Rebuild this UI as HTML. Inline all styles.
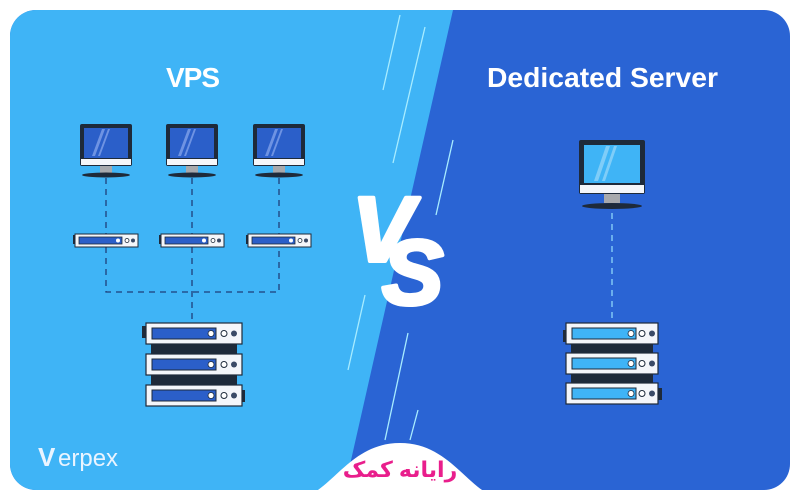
<!DOCTYPE html>
<html><head><meta charset="utf-8"><style>html,body{margin:0;padding:0;background:#fff}svg{display:block}</style></head><body>
<svg width="800" height="500" viewBox="0 0 800 500" xmlns="http://www.w3.org/2000/svg">
<defs>
<clipPath id="card"><rect x="10" y="10" width="780" height="480" rx="26"/></clipPath>
<g id="mon">
 <rect x="-26" y="0" width="52" height="42" rx="2" fill="#1e2a3a"/>
 <rect x="-22" y="4" width="44" height="30" fill="#2b5fc9"/>
 <path d="M-14 32 L-4 5 L-1 5 L-11 32Z M-8 32 L2 5 L4 5 L-6 32Z" fill="#6e93e3"/>
 <rect x="-25" y="35" width="50" height="6" fill="#f4f6fa"/>
 <rect x="-6" y="42" width="12" height="7" fill="#a7a9ad"/>
 <ellipse cx="0" cy="51" rx="24" ry="2.5" fill="#1e2a3a"/>
</g>
<g id="mon2">
 <rect x="-33" y="0" width="66" height="54" rx="2" fill="#1e2a3a"/>
 <rect x="-28" y="5" width="56" height="38" fill="#3fb4f6"/>
 <path d="M-18 41 L-6 6 L-2 6 L-14 41Z M-10 41 L2 6 L5 6 L-7 41Z" fill="#7fcdf8"/>
 <rect x="-32" y="45" width="64" height="8" fill="#f4f6fa"/>
 <rect x="-8" y="54" width="16" height="9" fill="#a7a9ad"/>
 <ellipse cx="0" cy="66" rx="30" ry="3" fill="#1e2a3a"/>
</g>
<g id="small">
 <rect x="-33" y="1" width="3" height="9" fill="#1e2a3a"/>
 <rect x="-31" y="0" width="63" height="13" fill="#f4f6fa" stroke="#1e2a3a" stroke-width="1"/>
 <rect x="-27" y="3" width="43" height="7" fill="#2b5fc9" stroke="#1e2a3a" stroke-width="0.8"/>
 <circle cx="12" cy="6.5" r="2" fill="#fff"/>
 <circle cx="21" cy="6.5" r="2" fill="#fff" stroke="#1e2a3a" stroke-width="0.8"/>
 <circle cx="27" cy="6.5" r="2" fill="#3a4a66"/>
</g>
<g id="big">
 <rect x="-48" y="0" width="96" height="21" fill="#f4f6fa" stroke="#1e2a3a" stroke-width="1.2"/>
 <rect x="-42" y="5" width="64" height="11" fill="#2b5fc9" stroke="#1e2a3a" stroke-width="1"/>
 <circle cx="17" cy="10.5" r="3" fill="#fff" stroke="#1e2a3a" stroke-width="0.8"/>
 <circle cx="30" cy="10.5" r="3" fill="#fff" stroke="#1e2a3a" stroke-width="1"/>
 <circle cx="40" cy="10.5" r="3" fill="#3a4a66"/>
</g>
<g id="big2">
 <rect x="-46" y="0" width="92" height="21" fill="#f4f6fa" stroke="#1e2a3a" stroke-width="1.2"/>
 <rect x="-40" y="5" width="64" height="11" fill="#3fb4f6" stroke="#1e2a3a" stroke-width="1"/>
 <circle cx="19" cy="10.5" r="3" fill="#fff" stroke="#1e2a3a" stroke-width="0.8"/>
 <circle cx="30" cy="10.5" r="3" fill="#fff" stroke="#1e2a3a" stroke-width="1"/>
 <circle cx="40" cy="10.5" r="3" fill="#3a4a66"/>
</g>
</defs>
<g clip-path="url(#card)">
 <rect x="0" y="0" width="800" height="500" fill="#2a64d4"/>
 <polygon points="0,0 457,0 453,10 342,500 0,500" fill="#3fb4f6"/>
 <g stroke="#a8ecff" stroke-width="1.3">
  <line x1="400" y1="15" x2="383" y2="90"/>
  <line x1="425" y1="27" x2="393" y2="163"/>
  <line x1="453" y1="140" x2="436" y2="215"/>
  <line x1="365" y1="295" x2="348" y2="370"/>
  <line x1="408" y1="333" x2="385" y2="440"/>
  <line x1="418" y1="410" x2="410" y2="440"/>
 </g>
</g>
<path d="M290 500 C330 500 345 443 400 443 C455 443 470 500 510 500Z" fill="#fff"/>
<text x="193" y="87" fill="#fff" font-family="Liberation Sans, sans-serif" font-weight="bold" font-size="28" text-anchor="middle" textLength="54">VPS</text>
<text x="487" y="87" fill="#fff" font-family="Liberation Sans, sans-serif" font-weight="bold" font-size="28" textLength="231" lengthAdjust="spacingAndGlyphs">Dedicated Server</text>
<g fill="#fff" stroke="#fff" stroke-width="4" stroke-linejoin="round" font-family="Liberation Sans, sans-serif" font-weight="bold" font-style="italic" font-size="92">
<text x="352" y="261">V</text>
<text x="382" y="304">S</text>
</g>
<!-- left connectors -->
<g stroke="#1e3f7a" stroke-width="1.3" stroke-dasharray="6,5" fill="none">
 <line x1="106" y1="178" x2="106" y2="234"/><line x1="192" y1="178" x2="192" y2="234"/><line x1="279" y1="178" x2="279" y2="234"/>
 <path d="M106 247 V292 H279 V247"/><line x1="192" y1="247" x2="192" y2="322"/>
</g>
<use href="#mon" x="106" y="124"/><use href="#mon" x="192" y="124"/><use href="#mon" x="279" y="124"/>
<use href="#small" x="106" y="234"/><use href="#small" x="192" y="234"/><use href="#small" x="279" y="234"/>
<rect x="151" y="344" width="86" height="41" fill="#1e2a3a"/>
<rect x="142" y="326" width="4" height="12" fill="#1e2a3a"/><rect x="241" y="390" width="4" height="12" fill="#1e2a3a"/>
<use href="#big" x="194" y="323"/><use href="#big" x="194" y="354"/><use href="#big" x="194" y="385"/>
<!-- right -->
<line x1="612" y1="213" x2="612" y2="322" stroke="#7fc6f5" stroke-width="1.5" stroke-dasharray="6,5"/>
<use href="#mon2" x="612" y="140"/>
<rect x="571" y="344" width="82" height="41" fill="#1e2a3a"/>
<rect x="563" y="330" width="4" height="12" fill="#1e2a3a"/><rect x="658" y="388" width="4" height="12" fill="#1e2a3a"/>
<use href="#big2" x="612" y="323"/><use href="#big2" x="612" y="353"/><use href="#big2" x="612" y="383"/>
<!-- logos -->
<text x="38" y="466" fill="#eaf4ff" font-family="Liberation Sans, sans-serif" font-size="26" font-weight="bold">V</text>
<text x="58" y="466" fill="#eaf4ff" font-family="Liberation Sans, sans-serif" font-size="24">erpex</text>
<text x="400" y="477" fill="#e91e8c" font-family="Liberation Sans, 'Noto Sans CJK SC', 'DejaVu Sans', sans-serif" font-size="22" font-weight="bold" text-anchor="middle">رایانه کمک</text>
</svg>
</body></html>
